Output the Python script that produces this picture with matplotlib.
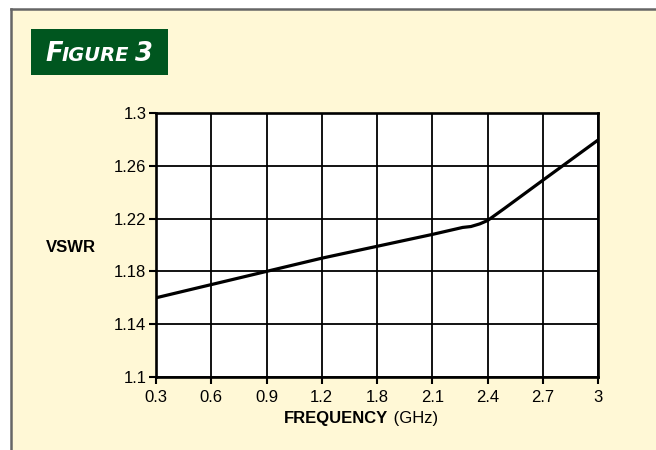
import matplotlib.pyplot as plt
from matplotlib.patches import Rectangle
from matplotlib.lines import Line2D

# x axis is categorical (equally spaced labels, as printed)
freq_labels = ["0.3", "0.6", "0.9", "1.2", "1.8", "2.1", "2.4", "2.7", "3"]
# curve sampled at category positions (0 = 0.3 label, 8 = 3 label)
freq_pos = [0, 1, 2, 3, 4, 5, 5.55, 5.7, 5.86, 6, 6.15, 6.3, 7, 8]
vswr = [1.160, 1.170, 1.180, 1.190, 1.199, 1.208, 1.2133, 1.2140, 1.2160, 1.2185,
        1.2230, 1.2275, 1.2490, 1.2795]
y_ticks = [1.1, 1.14, 1.18, 1.22, 1.26, 1.3]
y_labels = ["1.1", "1.14", "1.18", "1.22", "1.26", "1.3"]

W, H = 656, 450
fig = plt.figure(figsize=(W / 100, H / 100), dpi=100)
fig.patch.set_facecolor("white")
plt.rcParams["font.family"] = ["Liberation Sans", "DejaVu Sans"]

# yellow panel with grey top/left border
fig.patches.append(Rectangle((11 / W, 0), 1, 1 - 9 / H, transform=fig.transFigure,
                             facecolor="#FFF8D6", edgecolor="none", zorder=-5))
fig.lines.append(Line2D([10.5 / W, 1], [1 - 8.5 / H, 1 - 8.5 / H], transform=fig.transFigure,
                        color="#666666", lw=1.8))
fig.lines.append(Line2D([10.5 / W, 10.5 / W], [0, 1 - 8.5 / H], transform=fig.transFigure,
                        color="#666666", lw=1.8))

# green title badge
fig.patches.append(Rectangle((31 / W, 1 - 75 / H), 137 / W, 46 / H, transform=fig.transFigure,
                             facecolor="#00561F", edgecolor="none", zorder=1))
t1 = fig.text(45 / W, 1 - 61 / H, "F", color="white", fontsize=18.5, fontweight="bold",
              fontstyle="italic", family=["DejaVu Sans"], va="baseline")
t2 = fig.text(0, 0, "IGURE", color="white", fontsize=14, fontweight="bold",
              fontstyle="italic", family=["DejaVu Sans"], va="baseline")
fig.canvas.draw()
r = fig.canvas.get_renderer()
bb = t1.get_window_extent(r)
t2.set_position(((bb.x1 - 1) / W, 1 - 61 / H))
bb2 = t2.get_window_extent(r)
fig.text((bb2.x1 + 6) / W, 1 - 61 / H, "3", color="white", fontsize=18.5, fontweight="bold",
         fontstyle="italic", family=["DejaVu Sans"], va="baseline")

ax = fig.add_axes([156 / W, 1 - 377 / H, (598 - 156) / W, (377 - 113) / H])
ax.set_facecolor("white")
ax.plot(freq_pos, vswr, color="black", lw=2.3, solid_capstyle="butt", zorder=3)

ax.set_xlim(0, len(freq_labels) - 1)
ax.set_ylim(1.1, 1.3)
ax.set_xticks(range(len(freq_labels)))
ax.set_xticklabels(freq_labels)
ax.set_yticks(y_ticks)
ax.set_yticklabels(y_labels)
ax.grid(True, color="black", lw=1.3)
ax.set_axisbelow(True)
for s in ax.spines.values():
    s.set_linewidth(1.9)
ax.tick_params(direction="out", length=5, width=1.5, labelsize=12, pad=2)
ax.tick_params(axis="x", pad=4)

fig.text(71 / W, 1 - 248 / H, "VSWR", fontsize=12, fontweight="bold", ha="center", va="center")
xl1 = fig.text(0, 1 - 419 / H, "FREQUENCY", fontsize=12, fontweight="bold", va="center")
xl2 = fig.text(0, 1 - 419 / H, " (GHz)", fontsize=12, va="center")
fig.canvas.draw()
w1 = xl1.get_window_extent(r).width
w2 = xl2.get_window_extent(r).width
x0 = 361 - (w1 + w2) / 2
xl1.set_position((x0 / W, 1 - 419 / H))
xl2.set_position(((x0 + w1) / W, 1 - 419 / H))

fig.savefig("out.png", dpi=100)
